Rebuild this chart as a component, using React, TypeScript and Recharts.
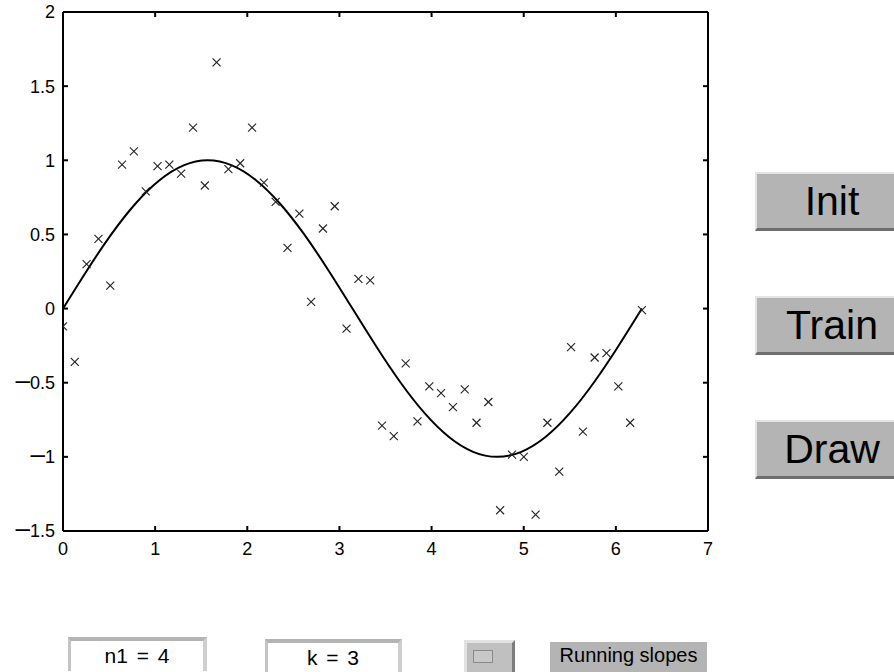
import { ComposedChart, Scatter, XAxis, YAxis } from 'recharts';

// noisy training samples (x, y)
const sampleX = [
  0, 0.128, 0.256, 0.385, 0.513, 0.641, 0.769, 0.898, 1.026, 1.154,
  1.282, 1.411, 1.539, 1.667, 1.795, 1.923, 2.052, 2.18, 2.308, 2.436,
  2.565, 2.693, 2.821, 2.949, 3.077, 3.206, 3.334, 3.462, 3.59, 3.719,
  3.847, 3.975, 4.103, 4.232, 4.36, 4.488, 4.616, 4.744, 4.873, 5.001,
  5.129, 5.257, 5.386, 5.514, 5.642, 5.77, 5.898, 6.027, 6.155, 6.283,
];
const sampleY = [
  -0.12, -0.36, 0.3, 0.47, 0.155, 0.97, 1.06, 0.79, 0.96, 0.97,
  0.91, 1.22, 0.83, 1.66, 0.94, 0.98, 1.22, 0.85, 0.72, 0.41,
  0.64, 0.045, 0.54, 0.69, -0.135, 0.2, 0.19, -0.79, -0.86, -0.37,
  -0.76, -0.525, -0.57, -0.665, -0.545, -0.77, -0.63, -1.36, -0.985, -1.0,
  -1.39, -0.77, -1.1, -0.26, -0.83, -0.33, -0.3, -0.525, -0.77, -0.01,
];

// target curve (sine)
const curveX = [
  0, 0.2618, 0.5236, 0.7854, 1.0472, 1.309, 1.5708, 1.8326, 2.0944, 2.3562,
  2.618, 2.8798, 3.1416, 3.4034, 3.6652, 3.927, 4.1888, 4.4506, 4.7124, 4.9742,
  5.236, 5.4978, 5.7596, 6.0214, 6.2832,
];
const curveY = [
  0, 0.2588, 0.5, 0.7071, 0.866, 0.9659, 1, 0.9659, 0.866, 0.7071,
  0.5, 0.2588, 0, -0.2588, -0.5, -0.7071, -0.866, -0.9659, -1, -0.9659,
  -0.866, -0.7071, -0.5, -0.2588, 0,
];

const xTicks = [0, 1, 2, 3, 4, 5, 6, 7];
const yTicks = [-1.5, -1, -0.5, 0, 0.5, 1, 1.5, 2];

const buttonLabels = ['Init', 'Train', 'Draw'];
const fieldLabels = ['n1 = 4', 'k = 3'];
const toggleLabel = 'Running slopes';

const samples = sampleX.map((x, i) => ({ x, y: sampleY[i] }));
const curve = curveX.map((x, i) => ({ x, y: curveY[i] }));

const FONT = '"Liberation Sans", Arial, Helvetica, sans-serif';

function label(v: number) {
  if (v < 0) {
    return (
      <>
        <tspan fontSize={26}>{'\u2013'}</tspan>
        {String(-v)}
      </>
    );
  }
  return String(v);
}

const Cross = (props: any) => {
  const { cx, cy } = props;
  if (cx == null || cy == null) return <g />;
  const r = 4;
  return (
    <g stroke="#222" strokeWidth={1.1}>
      <line x1={cx - r} y1={cy - r} x2={cx + r} y2={cy + r} />
      <line x1={cx - r} y1={cy + r} x2={cx + r} y2={cy - r} />
    </g>
  );
};

const LeftTick = (props: any) => {
  const { x, y, payload } = props;
  return (
    <text x={x} y={y} dy="0.36em" textAnchor="end" fontFamily={FONT} fontSize={18} fill="#000">
      {label(payload.value)}
    </text>
  );
};

const BottomTick = (props: any) => {
  const { x, y, payload } = props;
  return (
    <text x={x} y={y} dy="0.71em" textAnchor="middle" fontFamily={FONT} fontSize={18} fill="#000">
      {label(payload.value)}
    </text>
  );
};

const axisLine = { stroke: '#000', strokeWidth: 2 };
const tickLine = { stroke: '#000', strokeWidth: 2 };
const blank = () => '';

const raised: React.CSSProperties = {
  position: 'absolute',
  boxSizing: 'border-box',
  background: '#b4b4b4',
  borderTop: '2px solid #e4e4e4',
  borderLeft: '2px solid #e4e4e4',
  borderBottom: '3px solid #6e6e6e',
  display: 'flex',
  alignItems: 'center',
  justifyContent: 'center',
  fontFamily: FONT,
  color: '#000',
};

const field: React.CSSProperties = {
  position: 'absolute',
  boxSizing: 'border-box',
  background: '#fff',
  borderTop: '4px solid #b4b4b4',
  borderLeft: '3px solid #c4c4c4',
  borderRight: '4px solid #cfcfcf',
  height: 34,
  display: 'flex',
  alignItems: 'center',
  justifyContent: 'center',
  fontFamily: FONT,
  fontSize: 21,
  wordSpacing: 3,
  color: '#000',
};

export default function App() {
  return (
    <div
      style={{
        position: 'absolute',
        left: 0,
        top: 0,
        width: 894,
        height: 672,
        overflow: 'hidden',
        background: '#fff',
      }}
    >
      <ComposedChart width={720} height={570} margin={{ top: 11, right: 11, bottom: 9, left: 0 }}>
        <XAxis
          xAxisId="b"
          type="number"
          dataKey="x"
          domain={[0, 7]}
          ticks={xTicks}
          interval={0}
          allowDataOverflow
          orientation="bottom"
          height={30}
          tickSize={-5}
          tickMargin={16}
          tick={<BottomTick />}
          axisLine={axisLine}
          tickLine={tickLine}
        />
        <XAxis
          xAxisId="t"
          type="number"
          dataKey="x"
          domain={[0, 7]}
          ticks={xTicks}
          interval={0}
          allowDataOverflow
          orientation="top"
          height={1}
          tickSize={-5}
          tickFormatter={blank}
          axisLine={axisLine}
          tickLine={tickLine}
        />
        <YAxis
          yAxisId="l"
          type="number"
          dataKey="y"
          domain={[-1.5, 2]}
          ticks={yTicks}
          interval={0}
          allowDataOverflow
          width={63}
          tickSize={-5}
          tickMargin={13}
          tick={<LeftTick />}
          axisLine={axisLine}
          tickLine={tickLine}
        />
        <YAxis
          yAxisId="r"
          type="number"
          dataKey="y"
          domain={[-1.5, 2]}
          ticks={yTicks}
          interval={0}
          allowDataOverflow
          orientation="right"
          width={1}
          tickSize={-5}
          tickFormatter={blank}
          axisLine={axisLine}
          tickLine={tickLine}
        />
        <Scatter
          xAxisId="b"
          yAxisId="l"
          data={curve}
          line={{ stroke: '#000', strokeWidth: 2 }}
          lineJointType="natural"
          shape={() => <g />}
          isAnimationActive={false}
        />
        <Scatter
          xAxisId="b"
          yAxisId="l"
          data={samples}
          shape={<Cross />}
          isAnimationActive={false}
        />
      </ComposedChart>

      {buttonLabels.map((b, i) => (
        <div key={b} style={{ ...raised, left: 755, top: [172, 296, 420][i], width: 152, height: 59, fontSize: 41 }}>
          {b}
        </div>
      ))}

      <div style={{ ...field, left: 68, top: 637, width: 139 }}>{fieldLabels[0]}</div>
      <div style={{ ...field, left: 265, top: 639, width: 137 }}>{fieldLabels[1]}</div>

      <div
        style={{
          position: 'absolute',
          boxSizing: 'border-box',
          left: 464,
          top: 640,
          width: 51,
          height: 36,
          background: '#c0c0c0',
          borderTop: '3px solid #e2e2e2',
          borderLeft: '3px solid #e2e2e2',
          borderRight: '3px solid #7c7c7c',
        }}
      >
        <div
          style={{
            position: 'absolute',
            left: 6,
            top: 7,
            width: 20,
            height: 13,
            boxSizing: 'border-box',
            border: '1px solid #8a8a8a',
            background: '#c8c8c8',
          }}
        />
      </div>

      <div
        style={{
          position: 'absolute',
          left: 550,
          top: 642,
          width: 157,
          height: 36,
          background: '#b4b4b4',
          fontFamily: FONT,
          fontSize: 20,
          color: '#000',
          textAlign: 'center',
          paddingTop: 2,
          boxSizing: 'border-box',
        }}
      >
        {toggleLabel}
      </div>
    </div>
  );
}
